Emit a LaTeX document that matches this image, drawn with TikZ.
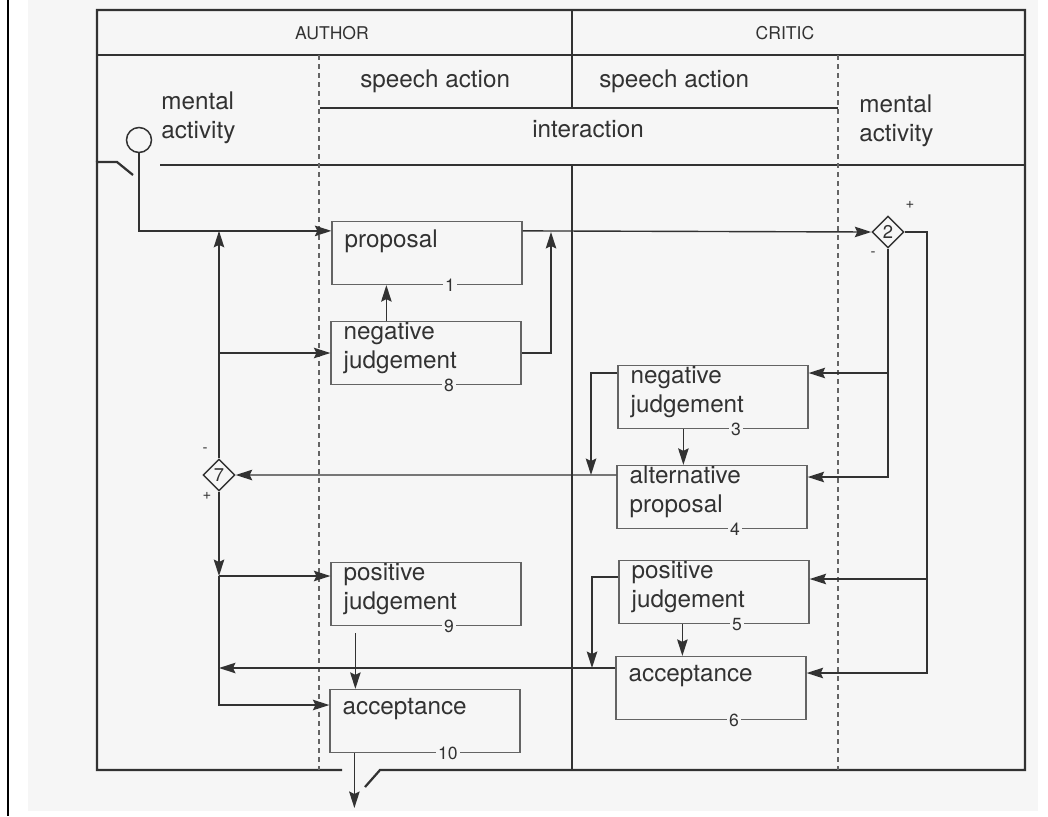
\documentclass[tikz,border=0pt]{standalone}
\usepackage{fontspec}
\setmainfont{TeX Gyre Heros}
\usepackage{xcolor}
\definecolor{InkGrey}{RGB}{50,50,50}
\definecolor{LineGrey}{RGB}{100,100,100}
\definecolor{PaperGrey}{RGB}{246,246,246}
\usetikzlibrary{arrows.meta,calc,shapes.geometric}

\begin{document}
\begin{tikzpicture}[x=0.2mm,y=-0.2mm,
    outline/.style={InkGrey,line width=0.45mm},
    divider/.style={InkGrey,line width=0.3mm},
    lane/.style={LineGrey,line width=0.25mm,dash pattern=on 1mm off 0.8mm},
    conn/.style={InkGrey,line width=0.28mm,-{Stealth[length=3.3mm,width=2.1mm,inset=0.5mm]}},
    actbox/.style={draw=LineGrey,line width=0.25mm,minimum width=38mm,minimum height=12.6mm,inner sep=0pt},
    acttext/.style={anchor=north west,inner sep=0pt,align=left,text=InkGrey,font=\fontsize{13.8}{16.5}\selectfont},
    rowtext/.style={inner sep=0pt,align=left,text=InkGrey,font=\fontsize{13.8}{16.5}\selectfont},
    colhead/.style={inner sep=0pt,text=InkGrey,font=\fontsize{10}{12}\selectfont},
    boxnum/.style={fill=PaperGrey,inner sep=1.4pt,text=InkGrey,font=\fontsize{10}{11}\selectfont},
    gate/.style={draw=InkGrey,fill=PaperGrey,line width=0.28mm,diamond,aspect=1,minimum size=6.4mm,inner sep=0pt,text=InkGrey,font=\fontsize{10.5}{11}\selectfont},
    sign/.style={inner sep=0pt,text=InkGrey,font=\fontsize{8.5}{9}\selectfont}]
    \useasboundingbox (0,0) rectangle (1048,816);
    % scanned page and its edge
    \fill[PaperGrey] (28,0) rectangle (1038,811);
    \draw[black,line width=0.4mm] (8,0) -- (8,816);
    % frame and header rows
    \draw[outline] (97,162) -- (97,10) -- (1025,10) -- (1025,770) -- (380,770) -- (365,787);
    \draw[outline] (342,770) -- (97,770) -- (97,162) -- (117,162) -- (133,175);
    \draw[divider] (97,55) -- (1025,55);
    \draw[divider] (160,165) -- (1025,165);
    \draw[divider] (320,108) -- (838,108);
    \draw[divider] (572,10) -- (572,108);
    \draw[divider] (572,165) -- (572,770);
    \draw[lane] (319,55) -- (319,770);
    \draw[lane] (838,55) -- (838,770);
    \node[colhead] (author) at (332,33) {AUTHOR};
    \node[colhead] (critic) at (785,33) {CRITIC};
    \node[rowtext,anchor=base west] (speechA) at (360,87) {speech action};
    \node[rowtext,anchor=base west] (speechC) at (599,87) {speech action};
    \node[rowtext,anchor=base west] (inter) at (532,137) {interaction};
    \node[rowtext,anchor=north west] (mentalA) at (161,91) {mental\\activity};
    \node[rowtext,anchor=north west] (mentalC) at (859,94) {mental\\activity};
    \node[draw=InkGrey,line width=0.3mm,circle,minimum size=5mm,inner sep=0pt] (start) at (139,140) {};

    % author boxes
    \node[actbox] (b1) at (427,253) {};
    \node[acttext] (t1) at ([shift={(2.6mm,-1.8mm)}]b1.north west) {proposal};
    \node[boxnum] (n1) at ($(b1.south west)!0.62!(b1.south east)$) {1};
    \node[actbox] (b8) at (426,353) {};
    \node[acttext] (t8) at ([shift={(2.6mm,-0.2mm)}]b8.north west) {negative\\judgement};
    \node[boxnum] (n8) at ($(b8.south west)!0.62!(b8.south east)$) {8};
    \node[actbox] (b9) at (426,594) {};
    \node[acttext] (t9) at ([shift={(2.6mm,-0.2mm)}]b9.north west) {positive\\judgement};
    \node[boxnum] (n9) at ($(b9.south west)!0.62!(b9.south east)$) {9};
    \node[actbox] (b10) at (425,721) {};
    \node[acttext] (t10) at ([shift={(2.6mm,-1.8mm)}]b10.north west) {acceptance};
    \node[boxnum] (n10) at ($(b10.south west)!0.62!(b10.south east)$) {10};

    % critic boxes
    \node[actbox] (b3) at (713,397) {};
    \node[acttext] (t3) at ([shift={(2.6mm,-0.2mm)}]b3.north west) {negative\\judgement};
    \node[boxnum] (n3) at ($(b3.south west)!0.62!(b3.south east)$) {3};
    \node[actbox] (b4) at (712,497) {};
    \node[acttext] (t4) at ([shift={(2.6mm,-0.2mm)}]b4.north west) {alternative\\proposal};
    \node[boxnum] (n4) at ($(b4.south west)!0.62!(b4.south east)$) {4};
    \node[actbox] (b5) at (714,592) {};
    \node[acttext] (t5) at ([shift={(2.6mm,-0.2mm)}]b5.north west) {positive\\judgement};
    \node[boxnum] (n5) at ($(b5.south west)!0.62!(b5.south east)$) {5};
    \node[actbox] (b6) at (711,688) {};
    \node[acttext] (t6) at ([shift={(2.6mm,-1.8mm)}]b6.north west) {acceptance};
    \node[boxnum] (n6) at ($(b6.south west)!0.62!(b6.south east)$) {6};

    % decisions
    \node[gate] (d2) at (888,232) {2};
    \node[sign] (d2p) at (910,205) {+};
    \node[sign] (d2m) at (873,254) {-};
    \node[gate] (d7) at (219,475) {7};
    \node[sign] (d7m) at (205,450) {-};
    \node[sign] (d7p) at (207,496) {+};

    % ports and bends
    \coordinate (in1) at ([yshift=-2mm]b1.north west);
    \coordinate (out1) at ([yshift=-2mm]b1.north east);
    \coordinate (in3) at ([yshift=4.8mm]b3.east);
    \coordinate (out3) at ([yshift=4.8mm]b3.west);
    \coordinate (in4) at ([yshift=4mm]b4.east);
    \coordinate (out4) at ([yshift=4.4mm]b4.west);
    \coordinate (in5) at ([yshift=2.6mm]b5.east);
    \coordinate (out5) at ([yshift=3mm]b5.west);
    \coordinate (in6) at ([yshift=3mm]b6.east);
    \coordinate (out6) at ([yshift=4mm]b6.west);
    \coordinate (in9) at ([yshift=3.6mm]b9.west);
    \coordinate (in10) at ([yshift=3.2mm]b10.west);
    \coordinate (up8) at ([xshift=11.2mm]b8.north west);
    \coordinate (dn3) at ([xshift=13.2mm]b3.south west);
    \coordinate (dn5) at ([xshift=12.8mm]b5.south west);
    \coordinate (dn9) at ([shift={(5mm,-1.4mm)}]b9.south west);
    \coordinate (dn10) at ([xshift=5mm]b10.south west);
    \coordinate (rise8) at (551,232);
    \coordinate (plus2) at (927,232);
    \coordinate (drop3) at (591,475);
    \coordinate (drop5) at (592,668);
    \coordinate (exit) at (356,808);

    % author side
    \draw[conn] (start.south) |- (in1);
    \draw[conn] (out1) -- (d2.west);
    \draw[conn] (d7.north) -- (d7.north |- in1);
    \draw[conn] (d7.north |- b8.west) -- (b8.west);
    \draw[conn] (up8) -- (up8 |- b1.south);
    \draw[conn] (b8.east) -| (rise8);
    \draw[conn] (d7.south) -- (d7.south |- in9);
    \draw[conn] (d7.south |- in9) -- (in9);
    \draw[conn] (d7.south |- in9) |- (in10);
    \draw[conn] (dn9) -- (dn9 |- b10.north);
    \draw[conn] (dn10) -- (dn10 |- exit);
    % critic side
    \draw[conn] (d2.east) -- (plus2) |- (in6);
    \draw[conn] (plus2 |- in5) -- (in5);
    \draw[conn] (d2.south) |- (in4);
    \draw[conn] (d2.south |- in3) -- (in3);
    \draw[conn] (out3) -| (drop3);
    \draw[conn] (dn3) -- (dn3 |- b4.north);
    \draw[conn] (out4) -- (d7.east);
    \draw[conn] (out5) -| (drop5);
    \draw[conn] (dn5) -- (dn5 |- b6.north);
    \draw[conn] (out6) -- (out6 -| d7.south);
\end{tikzpicture}
\end{document}
